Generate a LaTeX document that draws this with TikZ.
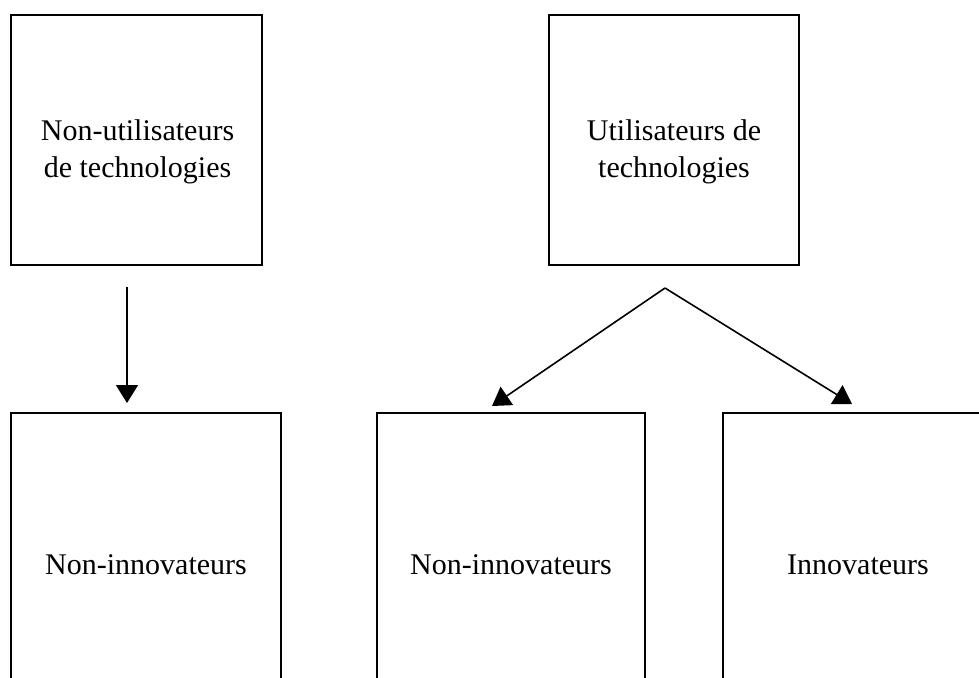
\documentclass[tikz,border=0pt]{standalone}
\usepackage{fontspec}
\setmainfont{Liberation Serif}
\usetikzlibrary{arrows.meta}
\begin{document}
\begin{tikzpicture}[x=0.5pt,y=-0.5pt,
  box/.style={draw=black,line width=0.9pt,rectangle,inner sep=0pt},
  txt/.style={font=\fontsize{15}{18.5}\selectfont,align=center,inner sep=0pt},
  arr/.style={draw=black,line width=0.8pt,-{Triangle[width=11pt,length=9pt]}}]
\useasboundingbox (0,0) rectangle (979,677);
\clip (0,0) rectangle (979,677);
% top boxes
\node[box,minimum width=125.5pt,minimum height=125pt] (tl) at (136.5,140) {};
\node[txt] (tltext) at (137.5,152) {Non-utilisateurs\\de technologies};
\node[box,minimum width=125pt,minimum height=125pt] (tr) at (674,140) {};
\node[txt] (trtext) at (674,152) {Utilisateurs de\\technologies};
% bottom boxes
\node[box,txt,minimum width=135pt,minimum height=152pt] (bl) at (146,565) {Non-innovateurs};
\node[box,txt,minimum width=134pt,minimum height=152pt] (bm) at (511,565) {Non-innovateurs};
\node[box,txt,minimum width=135pt,minimum height=152pt] (br) at (858,565) {Innovateurs};
% connectors
\coordinate (v1) at (127,287);
\coordinate (v2) at (127,403);
\coordinate (apex) at (665,288);
\coordinate (lt) at (492,406);
\coordinate (rt) at (852,404);
\draw[arr] (v1) -- (v2);
\draw[arr] (apex) -- (lt);
\draw[arr] (apex) -- (rt);
\end{tikzpicture}
\end{document}
